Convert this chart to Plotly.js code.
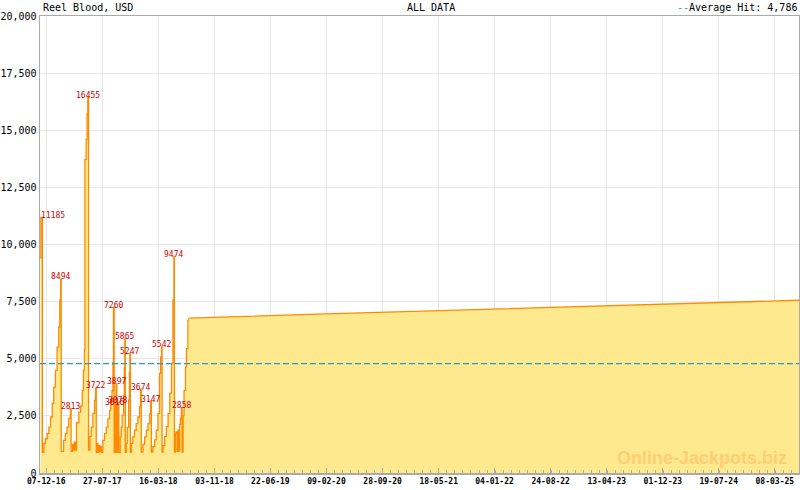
<!DOCTYPE html>
<html><head><meta charset="utf-8">
<script src="https://cdn.plot.ly/plotly-3.0.1.min.js"></script>
<style>html,body{margin:0;padding:0;background:#fff}</style>
</head><body><div id="chart" style="width:800px;height:490px"></div>
<script>
const gameName = 'Reel Blood, USD';
const periodLabel = 'ALL DATA';
const averageHit = 4786;
const watermark = 'Online-Jackpots.biz';

const jackpotDates = ['2016-11-13','2016-11-15','2016-11-21','2016-11-27','2016-12-04','2016-12-11','2016-12-18','2016-12-25','2017-01-01','2017-01-07','2017-01-14','2017-01-21','2017-01-28','2017-02-01','2017-02-05','2017-02-07','2017-02-17','2017-02-24','2017-03-03','2017-03-10','2017-03-17','2017-03-20','2017-03-26','2017-03-30','2017-04-02','2017-04-06','2017-04-11','2017-04-21','2017-04-28','2017-05-05','2017-05-10','2017-05-14','2017-05-16','2017-05-21','2017-05-25','2017-05-28','2017-05-31','2017-06-06','2017-06-11','2017-06-18','2017-06-25','2017-06-29','2017-07-02','2017-07-05','2017-07-09','2017-07-13','2017-07-17','2017-07-20','2017-07-23','2017-07-29','2017-08-05','2017-08-12','2017-08-19','2017-08-26','2017-08-31','2017-09-05','2017-09-09','2017-09-11','2017-09-14','2017-09-17','2017-09-20','2017-09-22','2017-09-25','2017-09-28','2017-10-03','2017-10-09','2017-10-13','2017-10-17','2017-10-23','2017-10-26','2017-10-28','2017-10-30','2017-11-03','2017-11-07','2017-11-13','2017-11-16','2017-11-18','2017-11-20','2017-11-24','2017-11-30','2017-12-07','2017-12-14','2017-12-21','2017-12-28','2018-01-01','2018-01-04','2018-01-11','2018-01-18','2018-01-25','2018-02-01','2018-02-08','2018-02-12','2018-02-15','2018-02-21','2018-02-28','2018-03-07','2018-03-14','2018-03-21','2018-03-25','2018-03-29','2018-03-31','2018-04-04','2018-04-11','2018-04-18','2018-04-25','2018-05-02','2018-05-09','2018-05-15','2018-05-19','2018-05-21','2018-05-25','2018-05-28','2018-06-01','2018-06-05','2018-06-08','2018-06-12','2018-06-15','2018-06-19','2018-06-22','2018-06-26','2018-06-30','2018-07-06','2018-07-10','2018-07-16','2018-07-20'];
const jackpotValues = [9400,11185,900,1290,1500,1720,2010,2450,3040,3760,4490,5510,6390,7560,8494,950,1430,1720,2010,2390,2813,950,1250,1000,1350,1000,2200,2650,2940,3620,4500,5400,13720,14600,15730,16455,1000,1600,2010,2610,3180,3722,900,1290,900,1200,950,1150,900,1430,1720,2010,2370,2740,3180,3600,4860,7260,900,3016,900,3897,900,3078,900,1580,2010,2530,3400,4640,5865,900,1300,2000,3200,4400,5247,900,1300,1580,1870,2160,2450,2900,3674,920,1250,1580,1870,2160,2600,3147,920,1150,1450,1870,2600,4360,5080,5542,920,1200,1600,2030,2600,3500,4800,7560,9474,920,1740,1800,950,1870,950,2130,2400,2858,920,2500,3620,4640,5440,6680,6780];

const tailDates = ['2018-07-20','2018-09-01','2019-01-01','2020-01-01','2021-01-01','2022-01-01','2023-01-01','2024-01-01','2025-01-01','2025-06-16'];
const tailValues = [6780,6790,6830,6950,7060,7180,7290,7400,7500,7560];

const peakDates = ['2016-11-15','2017-02-05','2017-03-17','2017-05-28','2017-06-29','2017-09-11','2017-09-17','2017-09-22','2017-09-28','2017-10-28','2017-11-18','2018-01-01','2018-02-12','2018-03-29','2018-05-19','2018-06-19'];
const peakValues = [11185,8494,2813,16455,3722,7260,3016,3897,3078,5865,5247,3674,3147,5542,9474,2858];

const tickDates = ['2016-12-07','2017-07-27','2018-03-16','2018-11-03','2019-06-22','2020-02-09','2020-09-28','2021-05-18','2022-01-04','2022-08-24','2023-04-13','2023-12-01','2024-07-19','2025-03-08'];
const tickLabels = ['07-12-16','27-07-17','16-03-18','03-11-18','22-06-19','09-02-20','28-09-20','18-05-21','04-01-22','24-08-22','13-04-23','01-12-23','19-07-24','08-03-25'];

const FILL = '#FFE98F', LINE = '#FF8A00', MONO = 'DejaVu Sans Mono', AVG = '#1E9AD6';

const traces = [
  {x: jackpotDates, y: jackpotValues, type:'scatter', mode:'lines', line:{shape:'hv', color:LINE, width:1.3}, fill:'tozeroy', fillcolor:FILL, hoverinfo:'skip'},
  {x: tailDates, y: tailValues, type:'scatter', mode:'lines', line:{shape:'linear', color:LINE, width:1.3}, fill:'tozeroy', fillcolor:FILL, hoverinfo:'skip'}
];

const annotations = peakDates.map((d,i)=>({
  x:d, y:peakValues[i], xref:'x', yref:'y', text:String(peakValues[i]), showarrow:false,
  xanchor: i===0 ? 'left' : 'center', yanchor:'middle', yshift:2, xshift: i===0 ? -2 : 0,
  font:{family:MONO, size:8, color:'#CC0000'}
}));
annotations.push(
  {xref:'paper', yref:'paper', x:0.001, y:1, yshift:1, xanchor:'left', yanchor:'bottom', text:gameName, showarrow:false, font:{family:MONO, size:10, color:'#000'}},
  {xref:'paper', yref:'paper', x:(405-40)/759, y:1, yshift:1, xanchor:'left', yanchor:'bottom', text:periodLabel, showarrow:false, font:{family:MONO, size:10, color:'#000'}},
  {xref:'paper', yref:'paper', x:1, y:1, yshift:1, xanchor:'right', yanchor:'bottom', text:"<span style='color:" + AVG + "'>--</span>Average Hit: " + averageHit.toLocaleString('en-US'), showarrow:false, font:{family:MONO, size:10, color:'#000'}},
  {xref:'paper', yref:'paper', x:(789-40)/759, y:(473-458)/457, xanchor:'right', yanchor:'middle', text:watermark, showarrow:false, font:{family:'Liberation Sans', size:18, weight:'bold', color:'rgba(255,200,110,0.85)'}}
);

const layout = {
  width:800, height:490,
  margin:{l:40, r:1, t:16, b:17, pad:0},
  paper_bgcolor:'#fff', plot_bgcolor:'#fff',
  showlegend:false,
  xaxis:{type:'date', range:['2016-11-11 07:00','2025-06-16'], tickmode:'array', tickvals:tickDates, ticktext:tickLabels,
    ticks:'inside', ticklen:5, tickwidth:1, tickcolor:'#AAAAAA',
    minor:{ticks:'inside', ticklen:3, tickwidth:1, tickcolor:'#AAAAAA', tick0:'2016-12-07', dtick:232/7*86400000, showgrid:false},
    showgrid:true, gridcolor:'#E6E6E6', gridwidth:1, showline:true, linecolor:'#AAAAAA', linewidth:1.5, mirror:true, zeroline:false,
    tickfont:{family:MONO, size:8, weight:'bold', color:'#000'}, tickangle:0},
  yaxis:{range:[0,20000], dtick:2500, tick0:0, tickformat:',', ticks:'', showgrid:true, gridcolor:'#E6E6E6', gridwidth:1,
    showline:true, linecolor:'#AAAAAA', linewidth:1.5, mirror:true, zeroline:false,
    tickfont:{family:MONO, size:10, color:'#000'}},
  shapes:[{type:'line', xref:'paper', yref:'y', x0:0, x1:1, y0:averageHit, y1:averageHit, line:{color:AVG, width:1.3, dash:'6px,3px'}, layer:'above'}],
  annotations: annotations
};

Plotly.newPlot('chart', traces, layout, {staticPlot:true, displayModeBar:false});
</script></body></html>
